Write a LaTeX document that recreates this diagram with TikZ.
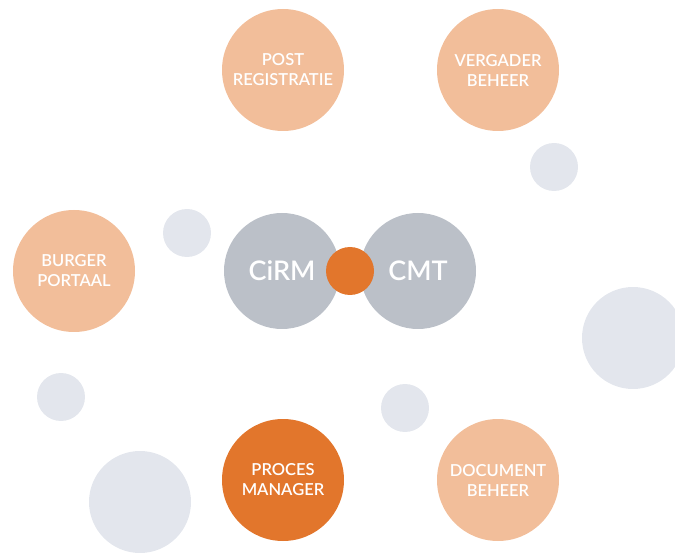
\documentclass[tikz,border=0pt]{standalone}
\usepackage{fontspec}
\IfFontExistsTF{Lato Semibold}{\setmainfont{Lato Semibold}}{%
  \IfFontExistsTF{Lato Medium}{\setmainfont{Lato Medium}}{\setmainfont{Lato}}}
\definecolor{lightorange}{HTML}{F2BE9A}
\definecolor{darkorange}{HTML}{E2762C}
\definecolor{coregrey}{HTML}{BBC0C8}
\definecolor{bubblegrey}{HTML}{E3E6ED}
\tikzset{
  module/.style={circle, inner sep=0pt, minimum size=122pt, fill=lightorange, text=white,
    align=center, font=\fontsize{16.5}{20}\selectfont},
  core/.style={circle, inner sep=0pt, minimum size=116pt, fill=coregrey, text=white,
    font=\fontsize{27}{30}\selectfont},
  bubble/.style={circle, inner sep=0pt, fill=bubblegrey}
}
\begin{document}
\begin{tikzpicture}[x=1pt, y=-1pt]
            \useasboundingbox (0,0) rectangle (675,553);
            % grey bubbles
            \node[bubble, minimum size=48pt] (bubbleA) at (554,167) {};
            \node[bubble, minimum size=48pt] (bubbleB) at (187,233) {};
            \node[bubble, minimum size=48pt] (bubbleC) at (61,397) {};
            \node[bubble, minimum size=48pt] (bubbleD) at (405,408) {};
            \node[bubble, minimum size=102pt] (bubbleE) at (633,338) {};
            \node[bubble, minimum size=102pt] (bubbleF) at (140,502) {};
            % modules
            \node[module] (post) at (283,70) {POST\\REGISTRATIE};
            \node[module] (vergader) at (498,70) {VERGADER\\BEHEER};
            \node[module] (burger) at (74,271) {BURGER\\PORTAAL};
            \node[module, fill=darkorange] (proces) at (283,480) {PROCES\\MANAGER};
            \node[module] (document) at (498,480) {DOCUMENT\\BEHEER};
            % core
            \node[core] (cirm) at (282,271) {CiRM};
            \node[core] (cmt) at (418,271) {CMT};
            \node[circle, inner sep=0pt, minimum size=48pt, fill=darkorange] (link) at (350,271) {};
        \end{tikzpicture}
\end{document}
